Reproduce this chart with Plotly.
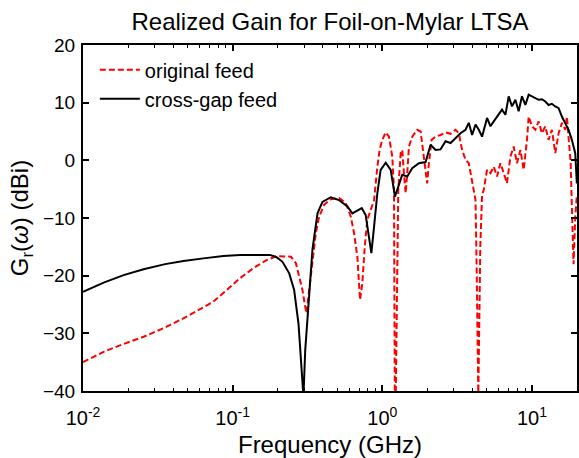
import plotly.graph_objects as go

# ---- data ----
cross_f = [0.01, 0.01374, 0.01867, 0.0254, 0.0354, 0.0469, 0.0638, 0.0867, 0.112, 0.1775,
           0.1965, 0.2153, 0.2388, 0.2576, 0.2754, 0.2902, 0.2972, 0.3055, 0.3214, 0.3414,
           0.369, 0.3981, 0.4529, 0.5143, 0.5845, 0.631, 0.671, 0.729, 0.7745, 0.815,
           0.845, 0.881, 0.9268, 0.975, 1.054, 1.138, 1.215, 1.279, 1.359, 1.468,
           1.585, 1.757, 1.947, 2.102, 2.27, 2.45, 2.647, 2.858, 3.085, 3.332,
           3.597, 3.785, 3.981, 4.196, 4.413, 4.642, 5.012, 5.282, 5.556, 5.845,
           6.31, 6.648, 6.993, 7.356, 7.749, 8.152, 8.577, 9.036, 9.506, 10.0,
           10.54, 11.08, 11.66, 12.28, 12.92, 13.59, 14.32, 15.07, 15.85, 16.70,
           17.57, 18.48, 19.47, 19.95]
cross_g = [-22.8, -21.2, -19.9, -18.9, -18.0, -17.45, -17.0, -16.6, -16.4, -16.4,
           -16.8, -17.6, -19.6, -22.5, -28.3, -35.8, -41.0, -32.9, -24.2, -15.5,
           -9.2, -7.2, -6.4, -6.9, -8.0, -9.2, -8.8, -8.3, -9.5, -13.2,
           -16.1, -11.5, -5.7, -1.65, -0.4, -1.65, -6.3, -4.55, -2.5, -2.8,
           -1.35, -0.5, -0.3, 2.7, 1.8, 1.9, 3.3, 3.0, 3.9, 4.7,
           5.3, 6.5, 4.4, 6.2, 5.3, 4.1, 7.35, 5.9, 6.75, 7.6,
           8.8, 7.9, 11.1, 9.35, 10.5, 8.5, 11.1, 9.6, 11.4, 11.1,
           10.8, 10.5, 10.6, 10.2, 9.6, 9.8, 9.35, 9.05, 7.6, 6.5,
           5.3, 3.55, 1.25, -4.0]

orig_f = [0.01, 0.01374, 0.01867, 0.0254, 0.0345, 0.0469, 0.0606, 0.0743, 0.0912, 0.112,
          0.1374, 0.1685, 0.1965, 0.2103, 0.245, 0.2647, 0.2784, 0.2928, 0.3055, 0.3113,
          0.3246, 0.3414, 0.3597, 0.3784, 0.4086, 0.4529, 0.5143, 0.5702, 0.6157, 0.6474,
          0.6813, 0.7101, 0.7356, 0.7632, 0.7943, 0.8369, 0.881, 0.9268, 0.9593, 1.0,
          1.054, 1.108, 1.166, 1.197, 1.212, 1.23, 1.279, 1.327, 1.359, 1.395,
          1.432, 1.468, 1.507, 1.585, 1.711, 1.803, 1.867, 1.926, 1.995, 2.048,
          2.135, 2.27, 2.45, 2.647, 2.858, 3.085, 3.245, 3.415, 3.597, 3.785,
          3.981, 4.196, 4.279, 4.33, 4.38, 4.516, 4.642, 4.764, 5.012, 5.282,
          5.556, 5.845, 6.155, 6.476, 6.81, 7.178, 7.551, 7.943, 8.37, 8.805,
          9.261, 9.506, 10.0, 10.54, 11.08, 11.66, 12.28, 12.92, 13.59, 14.32,
          15.07, 15.85, 16.70, 17.12, 17.57, 18.14, 18.48, 18.97, 19.47, 19.95]
orig_g = [-35.0, -33.2, -31.85, -30.6, -29.1, -27.4, -25.8, -24.5, -22.5, -20.45,
          -18.7, -17.3, -16.6, -16.6, -16.7, -17.85, -20.2, -22.5, -25.4, -26.5,
          -22.5, -17.3, -12.6, -9.75, -7.7, -6.75, -6.55, -7.4, -9.75, -12.6,
          -16.7, -24.2, -21.3, -15.0, -10.3, -8.6, -6.9, -1.1, 1.8, 3.55,
          4.85, 4.1, 0.65, -5.1, -41.0, -41.0, -5.1, 1.25, 1.8, -2.2,
          -5.7, -2.2, 2.4, 4.1, 5.3, 5.0, 1.8, -1.65, -4.0, -0.5,
          3.55, 4.1, 4.4, 4.85, 4.6, 5.3, 4.7, 1.8, 0.1, -0.5,
          -3.4, -6.9, -20.0, -41.0, -41.0, -15.0, -6.0, -5.1, -1.65, -2.2,
          -1.1, -2.8, -0.5, -2.2, -4.0, 0.65, 2.4, -0.5, 1.8, -1.65,
          3.55, 7.6, 5.9, 5.3, 6.75, 4.7, 5.9, 3.55, 5.3, 1.25,
          4.7, 6.5, 5.3, 7.6, 4.1, -0.5, -8.0, -18.0, -10.0, -6.0]

x_major = [0.01, 0.1, 1, 10]
x_major_text = ["10<sup>-2</sup>", "10<sup>-1</sup>", "10<sup>0</sup>", "10<sup>1</sup>"]
x_minor = [m * d for d in (0.01, 0.1, 1, 10) for m in range(2, 10) if m * d <= 20]
y_ticks = [-40, -30, -20, -10, 0, 10, 20]

FONT = "Arial, Liberation Sans, sans-serif"

fig = go.Figure()
fig.add_trace(go.Scatter(x=orig_f, y=orig_g, mode="lines", name="original feed",
                         legendgroup="a",
                         line=dict(color="#ff0000", width=2, dash="6px,3px")))
fig.add_trace(go.Scatter(x=cross_f, y=cross_g, mode="lines", name="cross-gap feed",
                         legendgroup="b",
                         line=dict(color="black", width=2)))

fig.update_layout(
    width=579, height=458, autosize=False,
    margin=dict(l=83, r=0, t=45, b=67),
    paper_bgcolor="white", plot_bgcolor="white",
    font=dict(family=FONT, color="black", size=19),
    title=dict(text="Realized Gain for Foil-on-Mylar LTSA", x=0.5, xref="paper",
               xanchor="center", y=1 - 22 / 458, yref="container", yanchor="middle",
               font=dict(size=24, family=FONT, color="black")),
    legend=dict(x=0.024, y=0.985, xanchor="left", yanchor="top",
                bgcolor="rgba(0,0,0,0)", borderwidth=0,
                font=dict(size=20, family=FONT, color="black"),
                tracegroupgap=0, itemwidth=40),
    showlegend=True,
)

fig.update_xaxes(
    type="log", range=[-2, 1.30103],
    tickmode="array", tickvals=x_major, ticktext=x_major_text,
    ticks="inside", ticklen=6, tickwidth=1.5, tickcolor="black",
    minor=dict(tickmode="array", tickvals=x_minor, ticks="inside", ticklen=3,
               tickwidth=1, tickcolor="black", showgrid=False),
    showline=True, linecolor="black", linewidth=2, mirror="ticks",
    showgrid=False, zeroline=False, ticklabelstandoff=8,
    tickfont=dict(size=20, family=FONT, color="black"),
    title=dict(text="Frequency (GHz)", font=dict(size=24, family=FONT, color="black"),
               standoff=8),
)
fig.update_yaxes(
    range=[-40, 20], tickmode="array", tickvals=y_ticks,
    ticks="inside", ticklen=6, tickwidth=1.5, tickcolor="black",
    showline=True, linecolor="black", linewidth=2, mirror="ticks",
    showgrid=False, zeroline=False, ticklabelstandoff=2,
    tickfont=dict(size=19, family=FONT, color="black"),
    title=dict(text="G<sub>r</sub>(<i>ω</i>) (dBi)",
               font=dict(size=24, family=FONT, color="black"), standoff=8),
)

fig.write_html("out.html")
